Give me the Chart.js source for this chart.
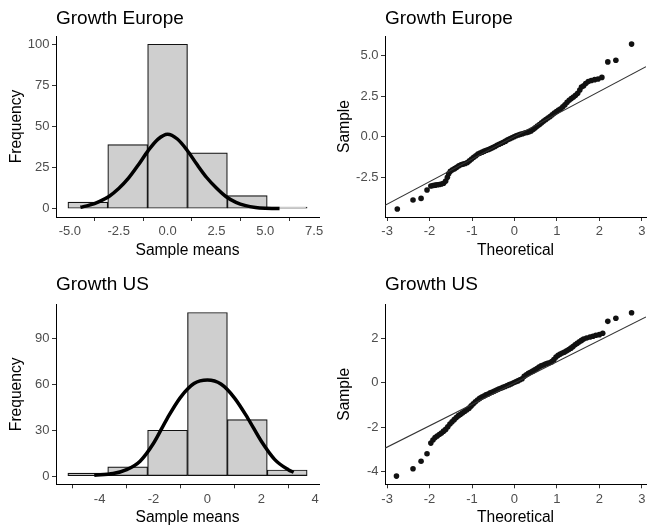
<!DOCTYPE html>
<html>
<head>
<meta charset="utf-8">
<script src="https://cdn.jsdelivr.net/npm/chart.js@4.4.1/dist/chart.umd.min.js"></script>
<style>
  body { margin: 0; background: #fff; }
  .grid { display: grid; grid-template-columns: 325px 325px; width: 650px; }
  canvas { display: block; }
</style>
</head>
<body>
<div class="grid">
  <canvas id="histEurope" width="325" height="265"></canvas>
  <canvas id="qqEurope" width="325" height="265"></canvas>
  <canvas id="histUS" width="325" height="266"></canvas>
  <canvas id="qqUS" width="325" height="266"></canvas>
</div>
<script>
// --- histogram data (bin centres and counts)
const euroBinCenters = [-4.08, -2.04, 0, 2.04, 4.08, 6.12];
const euroBinCounts = [4, 39, 100, 34, 8, 1];
const usBinCenters = [-4.44, -2.96, -1.48, 0, 1.48, 2.96];
const usBinCounts = [2, 6, 30, 107, 37, 4];

// --- density curves drawn over the histograms
const euroCurveX = [-4.46, -4.0, -3.5, -3.0, -2.5, -2.0, -1.5, -1.0, -0.5, 0, 0.5, 1.0, 1.5, 2.0, 2.5, 3.0, 3.5, 4.0, 4.5, 5.0, 5.4, 5.73];
const euroCurveY = [0.9, 2.2, 4.4, 7.5, 12.3, 18.6, 26.6, 35.2, 42.2, 45.3, 42.4, 35.6, 27.0, 19.0, 12.6, 7.3, 3.9, 1.9, 0.8, 0.3, 0.15, 0.1];
const usCurveX = [-4.2, -3.5, -3.0, -2.5, -2.0, -1.5, -1.0, -0.5, 0, 0.5, 1.0, 1.5, 2.0, 2.5, 3.0, 3.2];
const usCurveY = [0.6, 1.7, 4.3, 9.8, 21.5, 37.5, 51.5, 60.5, 62.8, 60.2, 51.2, 37.8, 22.8, 10.8, 4.2, 2.5];

// --- QQ plots: theoretical quantile / sample value
const euroQQTheo = [-2.76, -2.39, -2.20, -2.06, -1.97, -1.92, -1.87, -1.82, -1.77, -1.72, -1.67, -1.62, -1.58, -1.55, -1.51, -1.46, -1.41, -1.36, -1.31, -1.26, -1.21, -1.16, -1.11, -1.06, -1.01, -0.96, -0.91, -0.86, -0.81, -0.76, -0.71, -0.66, -0.61, -0.56, -0.51, -0.46, -0.41, -0.36, -0.31, -0.26, -0.21, -0.16, -0.11, -0.06, -0.01, 0.04, 0.09, 0.14, 0.19, 0.24, 0.29, 0.34, 0.39, 0.44, 0.49, 0.54, 0.59, 0.64, 0.69, 0.74, 0.79, 0.84, 0.89, 0.94, 0.99, 1.04, 1.09, 1.14, 1.19, 1.24, 1.29, 1.34, 1.39, 1.44, 1.49, 1.54, 1.58, 1.63, 1.68, 1.74, 1.81, 1.89, 1.97, 2.06, 2.20, 2.39, 2.76];
const euroQQSample = [-4.48, -3.92, -3.82, -3.30, -3.05, -3.02, -3.00, -2.98, -2.96, -2.93, -2.88, -2.75, -2.52, -2.30, -2.14, -2.05, -1.98, -1.90, -1.80, -1.74, -1.70, -1.66, -1.60, -1.50, -1.38, -1.28, -1.18, -1.08, -1.02, -0.96, -0.90, -0.84, -0.80, -0.74, -0.68, -0.61, -0.54, -0.47, -0.41, -0.35, -0.28, -0.20, -0.13, -0.07, -0.01, 0.05, 0.10, 0.14, 0.18, 0.22, 0.25, 0.29, 0.35, 0.44, 0.54, 0.65, 0.75, 0.85, 0.96, 1.06, 1.15, 1.24, 1.35, 1.46, 1.55, 1.64, 1.72, 1.84, 1.97, 2.12, 2.25, 2.36, 2.45, 2.55, 2.68, 2.88, 3.06, 3.14, 3.28, 3.40, 3.47, 3.52, 3.56, 3.66, 4.62, 4.72, 5.72];
const euroLineX = [-3.05, 3.1];
const euroLineY = [-4.25, 4.32];

const usQQTheo = [-2.78, -2.39, -2.20, -2.06, -1.97, -1.92, -1.87, -1.82, -1.77, -1.72, -1.67, -1.62, -1.57, -1.52, -1.47, -1.42, -1.37, -1.32, -1.27, -1.22, -1.17, -1.12, -1.07, -1.02, -0.97, -0.92, -0.87, -0.82, -0.77, -0.72, -0.67, -0.62, -0.57, -0.52, -0.47, -0.42, -0.37, -0.32, -0.27, -0.22, -0.17, -0.12, -0.07, -0.02, 0.03, 0.08, 0.13, 0.18, 0.23, 0.28, 0.33, 0.38, 0.43, 0.48, 0.53, 0.58, 0.63, 0.68, 0.73, 0.78, 0.83, 0.88, 0.93, 0.98, 1.03, 1.08, 1.13, 1.18, 1.23, 1.28, 1.33, 1.38, 1.43, 1.48, 1.53, 1.58, 1.63, 1.70, 1.78, 1.85, 1.92, 2.00, 2.08, 2.20, 2.39, 2.76];
const usQQSample = [-4.21, -3.88, -3.54, -3.20, -2.72, -2.58, -2.47, -2.40, -2.33, -2.26, -2.18, -2.10, -1.98, -1.86, -1.76, -1.66, -1.56, -1.48, -1.42, -1.35, -1.28, -1.21, -1.14, -1.04, -0.94, -0.85, -0.77, -0.70, -0.64, -0.59, -0.54, -0.50, -0.45, -0.41, -0.37, -0.32, -0.28, -0.24, -0.20, -0.16, -0.12, -0.08, -0.04, 0.01, 0.05, 0.09, 0.14, 0.19, 0.30, 0.37, 0.43, 0.48, 0.53, 0.59, 0.65, 0.72, 0.77, 0.81, 0.85, 0.88, 0.91, 0.96, 1.05, 1.17, 1.25, 1.30, 1.35, 1.39, 1.45, 1.51, 1.57, 1.64, 1.72, 1.79, 1.86, 1.92, 1.98, 2.03, 2.07, 2.11, 2.15, 2.18, 2.24, 2.78, 2.92, 3.17];
const usLineX = [-3.05, 3.1];
const usLineY = [-2.95, 2.98];

// --- tick values
const euroHistXTicks = [-5, -2.5, 0, 2.5, 5, 7.5];
const euroHistYTicks = [0, 25, 50, 75, 100];
const usHistXTicks = [-4, -2, 0, 2, 4];
const usHistYTicks = [0, 30, 60, 90];
const qqXTicks = [-3, -2, -1, 0, 1, 2, 3];
const euroQQYTicks = [-2.5, 0, 2.5, 5];
const usQQYTicks = [-4, -2, 0, 2];

Chart.defaults.font.family = "'Liberation Sans', Arial, sans-serif";

function toPoints(xs, ys) {
    return xs.map((x, i) => ({ x: x, y: ys[i] }));
}

// axe façon theme_classic : trait noir, petites graduations, pas de grille
function makeAxis(isX, tickValues, decimals, min, max, title, size, titlePad) {
    return {
        type: 'linear',
        min: min,
        max: max,
        offset: false,
        afterBuildTicks: scale => {
            scale.ticks = tickValues.map(v => ({ value: v }));
        },
        afterFit: scale => {
            if (isX) scale.height = size; else scale.width = size;
            scale.paddingLeft = 0;
            scale.paddingRight = 0;
            scale.paddingTop = 0;
            scale.paddingBottom = 0;
        },
        ticks: {
            autoSkip: false,
            maxRotation: 0,
            padding: isX ? 3 : 2.5,
            color: '#4d4d4d',
            font: { size: 13 },
            callback: v => Number(v).toFixed(decimals)
        },
        grid: { drawOnChartArea: false, drawTicks: true, tickLength: 4, tickColor: '#333', tickWidth: 1 },
        border: { display: true, color: '#000', width: 1 },
        title: {
            display: true,
            text: title,
            color: '#000',
            font: { size: 15.6 },
            padding: isX ? { top: 0, bottom: titlePad } : { top: titlePad, bottom: 0 }
        }
    };
}

function makePlugins(title, padTop, padBottom) {
    return {
        legend: { display: false },
        tooltip: { enabled: false },
        title: {
            display: true,
            text: title,
            align: 'start',
            fullSize: false,
            color: '#000',
            font: { size: 19, weight: 'normal', lineHeight: 1.2 },
            padding: { top: padTop, bottom: padBottom }
        }
    };
}

function drawHistogram(id, title, centers, counts, curveX, curveY, geo) {
    const ctx = document.getElementById(id).getContext('2d');
    return new Chart(ctx, {
        type: 'bar',
        data: {
            datasets: [
                {
                    type: 'line',
                    data: toPoints(curveX, curveY),
                    borderColor: '#000',
                    borderWidth: 3.5,
                    pointRadius: 0,
                    cubicInterpolationMode: 'monotone',
                    order: 0
                },
                {
                    type: 'bar',
                    data: toPoints(centers, counts),
                    backgroundColor: '#cfcfcf',
                    borderColor: '#111',
                    borderWidth: 1.2,
                    borderSkipped: false,
                    barPercentage: 1,
                    categoryPercentage: 1,
                    order: 1
                }
            ]
        },
        options: {
            responsive: false,
            animation: false,
            devicePixelRatio: 1,
            layout: { padding: { left: 0, right: geo.right, top: 0, bottom: 0 } },
            plugins: makePlugins(title, geo.titleTop, geo.titleBottom),
            scales: {
                x: makeAxis(true, geo.xTicks, geo.xDec, geo.xMin, geo.xMax, 'Sample means', geo.xHeight, geo.xTitlePad),
                y: makeAxis(false, geo.yTicks, 0, geo.yMin, geo.yMax, 'Frequency', geo.yWidth, geo.yTitlePad)
            }
        }
    });
}

function drawQQ(id, title, theo, sample, lineX, lineY, geo) {
    const ctx = document.getElementById(id).getContext('2d');
    return new Chart(ctx, {
        type: 'scatter',
        data: {
            datasets: [
                {
                    data: toPoints(lineX, lineY),
                    showLine: true,
                    borderColor: '#333',
                    borderWidth: 1.1,
                    pointRadius: 0,
                    order: 0
                },
                {
                    data: toPoints(theo, sample),
                    pointRadius: 2.8,
                    pointBackgroundColor: '#111',
                    pointBorderWidth: 0,
                    order: 1
                }
            ]
        },
        options: {
            responsive: false,
            animation: false,
            devicePixelRatio: 1,
            layout: { padding: { left: 0, right: geo.right, top: 0, bottom: 0 } },
            plugins: makePlugins(title, geo.titleTop, geo.titleBottom),
            scales: {
                x: makeAxis(true, qqXTicks, 0, -3.05, 3.1, 'Theoretical', geo.xHeight, geo.xTitlePad),
                y: makeAxis(false, geo.yTicks, geo.yDec, geo.yMin, geo.yMax, 'Sample', geo.yWidth, geo.yTitlePad)
            }
        }
    });
}

drawHistogram('histEurope', 'Growth Europe', euroBinCenters, euroBinCounts, euroCurveX, euroCurveY, {
    right: 6, titleTop: 7.6, titleBottom: 5.6, xHeight: 48, xTitlePad: 4.6, yWidth: 56, yTitlePad: 7.2,
    xTicks: euroHistXTicks, xDec: 1, xMin: -5.71, xMax: 7.75, yTicks: euroHistYTicks, yMin: -5, yMax: 105
});

drawQQ('qqEurope', 'Growth Europe', euroQQTheo, euroQQSample, euroLineX, euroLineY, {
    right: 0, titleTop: 7.6, titleBottom: 5.6, xHeight: 48, xTitlePad: 4.6, yWidth: 60, yTitlePad: 10.6,
    yTicks: euroQQYTicks, yDec: 1, yMin: -4.97, yMax: 6.22
});

drawHistogram('histUS', 'Growth US', usBinCenters, usBinCounts, usCurveX, usCurveY, {
    right: 6, titleTop: 8.6, titleBottom: 7.9, xHeight: 46.7, xTitlePad: 3.8, yWidth: 56, yTitlePad: 7.2,
    xTicks: usHistXTicks, xDec: 0, xMin: -5.62, xMax: 4.14, yTicks: usHistYTicks, yMin: -5.35, yMax: 112.35
});

drawQQ('qqUS', 'Growth US', usQQTheo, usQQSample, usLineX, usLineY, {
    right: 0, titleTop: 8.6, titleBottom: 7.9, xHeight: 46.7, xTitlePad: 3.8, yWidth: 60, yTitlePad: 10.6,
    yTicks: usQQYTicks, yDec: 0, yMin: -4.58, yMax: 3.55
});
</script>
</body>
</html>
